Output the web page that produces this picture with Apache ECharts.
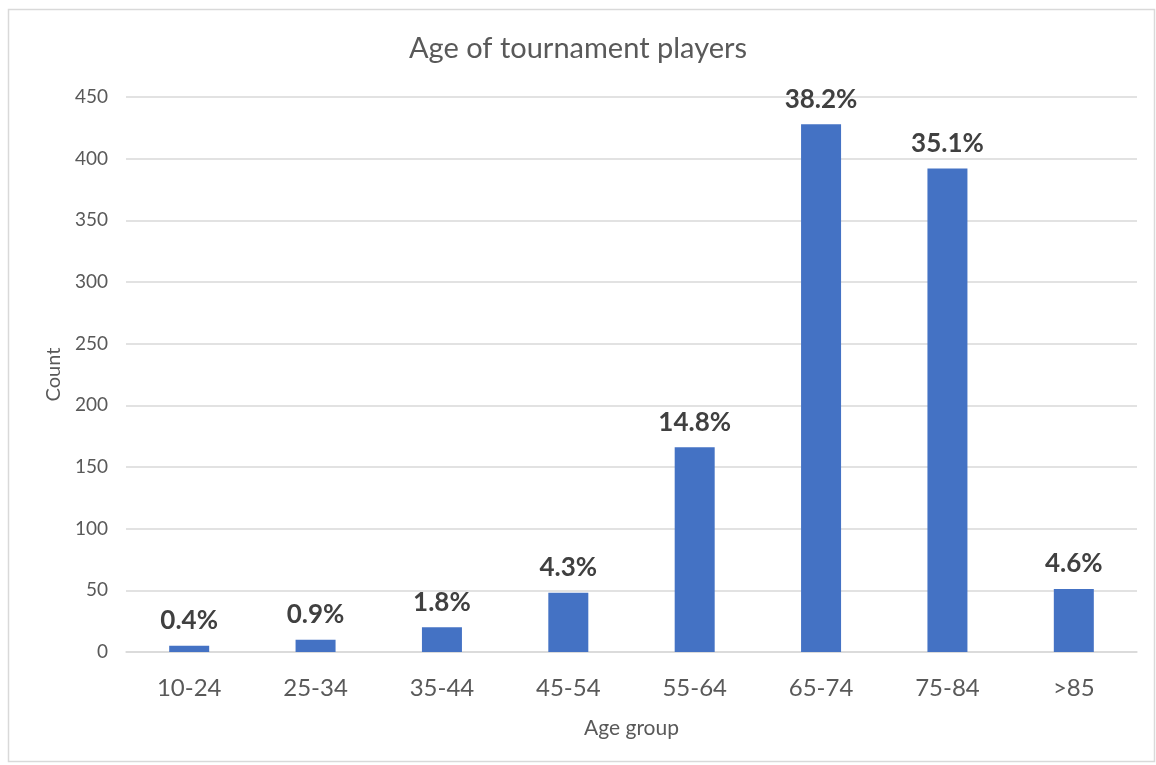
<!DOCTYPE html>
<html><head><meta charset="utf-8">
<script src="https://cdn.jsdelivr.net/npm/echarts@6/dist/echarts.min.js"></script>
<style>html,body{margin:0;padding:0;background:#fff}#c{width:1156px;height:765px}</style>
</head><body><div id="c"></div>
<script>
const categories = ['10-24','25-34','35-44','45-54','55-64','65-74','75-84','>85'];
const counts = [5, 10, 20, 48, 166, 428, 392, 51];
const percentLabels = ['0.4%','0.9%','1.8%','4.3%','14.8%','38.2%','35.1%','4.6%'];
const yTicks = {min:0, max:450, interval:50};

const chart = echarts.init(document.getElementById('c'), null, {renderer:'canvas'});
const FONT = 'Lato, "Open Sans", sans-serif';
chart.setOption({
  backgroundColor:'#fff',
  animation:false,
  graphic:[{type:'rect', shape:{x:8.5,y:9.5,width:1146,height:752}, style:{fill:'none', stroke:'#d9d9d9', lineWidth:1.5}, silent:true}],
  title:{text:'Age of tournament players', left:'center', top:29,
    textStyle:{fontFamily:FONT, fontSize:29, fontWeight:'normal', color:'#595959'}},
  grid:{left:126, right:19, top:97, bottom:113},
  xAxis:{type:'category', data:categories,
    name:'Age group', nameLocation:'middle', nameGap:66,
    nameTextStyle:{fontFamily:FONT, fontSize:21, color:'#595959'},
    axisLine:{lineStyle:{color:'#d9d9d9', width:1.5}}, axisTick:{show:false},
    axisLabel:{fontFamily:FONT, fontSize:24, color:'#595959', margin:24}},
  yAxis:{type:'value', min:yTicks.min, max:yTicks.max, interval:yTicks.interval,
    name:'Count', nameLocation:'middle', nameGap:62,
    nameTextStyle:{fontFamily:FONT, fontSize:20, color:'#595959'},
    axisLine:{show:false}, axisTick:{show:false},
    splitLine:{lineStyle:{color:'#d9d9d9', width:1.5}},
    axisLabel:{fontFamily:FONT, fontSize:19, color:'#595959', margin:18}},
  series:[{type:'bar', data:counts, barWidth:40,
    itemStyle:{color:'#4472c4'},
    label:{show:true, position:'top', distance:12,
      formatter:p=>percentLabels[p.dataIndex],
      fontFamily:FONT, fontSize:26, fontWeight:'bold', color:'#404040'}}]
});
</script></body></html>
